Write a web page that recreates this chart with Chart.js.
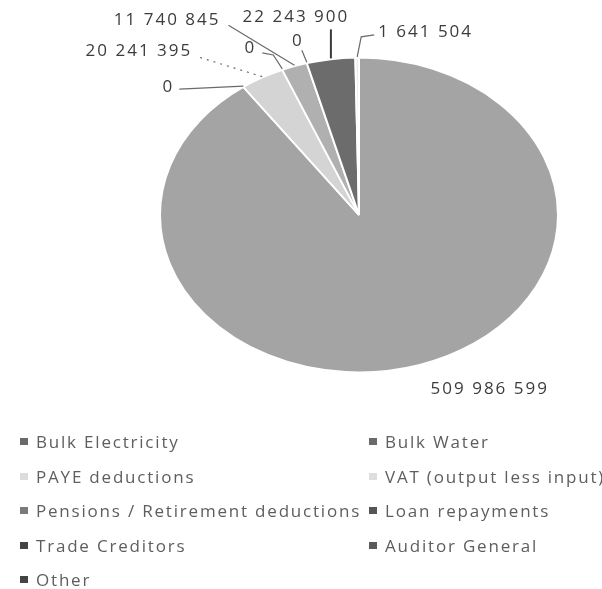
<!DOCTYPE html>
<html>
<head>
<meta charset="utf-8">
<script src="https://cdn.jsdelivr.net/npm/chart.js@4/dist/chart.umd.min.js"></script>
<style>
  body { margin: 0; background: #fff; }
  #wrap { position: relative; width: 602px; height: 589px; overflow: hidden; }
  #legend { position: absolute; left: 0; top: 0; width: 602px; height: 589px; pointer-events: none;
            font-family: "Open Sans", sans-serif; font-size: 17px; color: #5e5e5e; letter-spacing: 1.8px; }
  .item { position: absolute; white-space: nowrap; line-height: 20px; }
  .box { display: inline-block; width: 8px; height: 7px; margin-right: 8px; vertical-align: 3px; }
</style>
</head>
<body>
<div id="wrap">
  <canvas id="chart" width="602" height="589"></canvas>
  <div id="legend"></div>
</div>
<script>
// chart data
var categories = ['Bulk Electricity', 'Bulk Water', 'PAYE deductions', 'VAT (output less input)',
  'Pensions / Retirement deductions', 'Loan repayments', 'Trade Creditors', 'Auditor General', 'Other'];
var amounts = [509986599, 0, 20241395, 0, 11740845, 0, 22243900, 0, 1641504];

// styles
var sliceColors = ['#a4a4a4', '#8c8c8c', '#d4d4d4', '#e2e2e2', '#b0b0b0', '#777777', '#6c6c6c', '#888888', '#ececec'];
var legendColors = ['#6a6a6a', '#6a6a6a', '#dcdcdc', '#dedede', '#7a7a7a', '#555555', '#444444', '#5a5a5a', '#444444'];
var SQUASH = 0.79; // pie is drawn tilted, as an ellipse

// label placement relative to the outer edge of each slice: text offset, alignment, leader points
var labelLayout = [
  { t: [70, 24], align: 'center', lead: [] },
  { t: [-69, 0], align: 'right', lead: [[-64, 2]] },
  { t: [-70, -26], align: 'right', lead: [[-65, -21]], dash: true },
  { t: [-32, -22], align: 'center', lead: [[-9, -15], [-20, -17]] },
  { t: [-74, -46], align: 'right', lead: [[-66, -41]] },
  { t: [-9, -22], align: 'center', lead: [[-5, -13]] },
  { t: [-35, -42], align: 'center', lead: [[0, -30]], bold: true },
  null,
  { t: [21, -26], align: 'left', lead: [[4, -21], [17, -23]] }
];

function fmt(v) {
  return String(v).replace(/\B(?=(\d{3})+(?!\d))/g, ' ');
}

var squash = {
  id: 'squash',
  beforeDatasetsDraw: function(chart) {
    var a = chart.getDatasetMeta(0).data[0];
    var ctx = chart.ctx;
    ctx.save();
    ctx.translate(a.x, a.y);
    ctx.scale(1, SQUASH);
    ctx.translate(-a.x, -a.y);
  },
  afterDatasetsDraw: function(chart) {
    chart.ctx.restore();
  }
};

var valueLabels = {
  id: 'valueLabels',
  afterDraw: function(chart) {
    var ctx = chart.ctx;
    var arcs = chart.getDatasetMeta(0).data;
    ctx.save();
    ctx.font = '17px "Open Sans", sans-serif';
    ctx.letterSpacing = '2px';
    ctx.textBaseline = 'middle';
    arcs.forEach(function(arc, i) {
      var lay = labelLayout[i];
      if (!lay) return;
      var mid = (arc.startAngle + arc.endAngle) / 2;
      var ax = arc.x + Math.cos(mid) * arc.outerRadius;
      var ay = arc.y + Math.sin(mid) * arc.outerRadius * SQUASH;
      if (lay.lead.length) {
        ctx.beginPath();
        ctx.moveTo(ax, ay - 1);
        lay.lead.forEach(function(p) { ctx.lineTo(ax + p[0], ay + p[1]); });
        ctx.strokeStyle = lay.bold ? '#3a3a3a' : '#6a6a6a';
        ctx.lineWidth = lay.bold ? 2 : 1.2;
        ctx.setLineDash(lay.dash ? [2, 5] : []);
        ctx.stroke();
      }
      ctx.fillStyle = '#3c3c3c';
      ctx.textAlign = lay.align;
      ctx.fillText(fmt(amounts[i]), ax + lay.t[0], ay + lay.t[1]);
    });
    ctx.restore();
  }
};

new Chart(document.getElementById('chart'), {
  type: 'pie',
  data: {
    labels: categories,
    datasets: [{
      data: amounts,
      backgroundColor: sliceColors,
      borderColor: '#ffffff',
      borderWidth: 2
    }]
  },
  options: {
    responsive: false,
    animation: false,
    layout: { padding: { left: 159, right: 43, top: 15, bottom: 174 } },
    plugins: {
      legend: { display: false },
      tooltip: { enabled: false }
    }
  },
  plugins: [squash, valueLabels]
});

// legend in two columns
var legend = document.getElementById('legend');
categories.forEach(function(name, i) {
  var el = document.createElement('div');
  el.className = 'item';
  el.style.left = (i % 2 ? 369 : 20) + 'px';
  el.style.top = (432 + Math.floor(i / 2) * 34.5) + 'px';
  el.innerHTML = '<span class="box" style="background:' + legendColors[i] + '"></span>' + name;
  legend.appendChild(el);
});
</script>
</body>
</html>
